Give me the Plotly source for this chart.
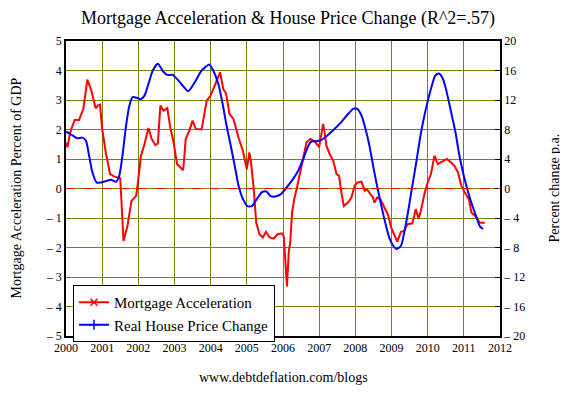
import plotly.graph_objects as go

# Mortgage acceleration (% of GDP, left axis)
red_x = [2000.00, 2000.04, 2000.10, 2000.13, 2000.24, 2000.36, 2000.48, 2000.59, 2000.70, 2000.82,
         2000.88, 2000.94, 2001.00, 2001.10, 2001.22, 2001.33, 2001.44, 2001.50, 2001.59, 2001.70,
         2001.81, 2001.94, 2002.00, 2002.07, 2002.17, 2002.28, 2002.37, 2002.47, 2002.54, 2002.61,
         2002.70, 2002.80, 2002.89, 2002.97, 2003.07, 2003.24, 2003.31, 2003.41, 2003.50, 2003.59,
         2003.75, 2003.89, 2004.00, 2004.12, 2004.26, 2004.35, 2004.43, 2004.52, 2004.63, 2004.77,
         2004.89, 2005.00, 2005.07, 2005.11, 2005.19, 2005.26, 2005.35, 2005.44, 2005.53, 2005.63,
         2005.74, 2005.85, 2005.97, 2006.02, 2006.06, 2006.11, 2006.16, 2006.20, 2006.25, 2006.31,
         2006.39, 2006.47, 2006.56, 2006.65, 2006.76, 2006.88, 2007.00, 2007.06, 2007.11, 2007.15,
         2007.20, 2007.29, 2007.39, 2007.48, 2007.55, 2007.60, 2007.68, 2007.80, 2007.89, 2007.98,
         2008.05, 2008.17, 2008.26, 2008.32, 2008.39, 2008.49, 2008.53, 2008.60, 2008.69, 2008.81,
         2008.90, 2009.00, 2009.16, 2009.26, 2009.35, 2009.44, 2009.58, 2009.67, 2009.75, 2009.81,
         2009.91, 2010.00, 2010.09, 2010.19, 2010.28, 2010.40, 2010.53, 2010.65, 2010.74, 2010.84,
         2010.93, 2011.05, 2011.14, 2011.21, 2011.33, 2011.44, 2011.58]
red_y = [1.55, 1.40, 1.80, 1.96, 2.32, 2.32, 2.70, 3.69, 3.32, 2.72,
         2.81, 2.84, 2.02, 1.22, 0.49, 0.41, 0.37, 0.35, -1.78, -1.27,
         -0.42, -0.25, 0.32, 1.10, 1.50, 2.05, 1.68, 1.47, 1.53, 2.81,
         2.64, 2.72, 2.02, 1.60, 0.83, 0.62, 1.68, 1.96, 2.30, 2.02,
         2.00, 2.98, 3.15, 3.54, 3.94, 3.37, 3.20, 2.53, 2.36, 1.73,
         1.28, 0.66, 1.22, 0.94, 0.00, -1.16, -1.55, -1.66, -1.47, -1.66,
         -1.70, -1.55, -1.52, -1.61, -2.52, -3.32, -2.13, -1.84, -0.82, -0.36,
         0.05, 0.55, 1.11, 1.57, 1.68, 1.59, 1.40, 1.80, 2.19, 1.91,
         1.45, 1.17, 0.94, 0.49, 0.43, -0.02, -0.59, -0.48, -0.31, 0.09,
         0.20, 0.23, -0.08, -0.02, -0.14, -0.31, -0.48, -0.31, -0.36, -0.65,
         -0.88, -1.35, -1.80, -1.47, -1.44, -1.21, -1.18, -0.70, -1.02, -0.76,
         -0.19, 0.20, 0.49, 1.11, 0.83, 0.91, 1.00, 0.88, 0.77, 0.54,
         0.09, -0.19, -0.36, -0.82, -0.95, -1.16, -1.16]

# Real house price change (% p.a., right axis)
blue_x = [2000.00, 2000.18, 2000.31, 2000.45, 2000.55, 2000.64, 2000.73, 2000.85, 2000.96, 2001.10,
          2001.24, 2001.38, 2001.47, 2001.56, 2001.66, 2001.75, 2001.84, 2001.96, 2002.06, 2002.17,
          2002.28, 2002.40, 2002.54, 2002.68, 2002.80, 2002.95, 2003.15, 2003.38, 2003.56, 2003.75,
          2003.96, 2004.07, 2004.21, 2004.33, 2004.44, 2004.56, 2004.68, 2004.77, 2004.89, 2005.02,
          2005.14, 2005.28, 2005.42, 2005.54, 2005.65, 2005.79, 2005.93, 2006.06, 2006.28, 2006.42,
          2006.56, 2006.70, 2006.79, 2006.93, 2007.06, 2007.25, 2007.43, 2007.61, 2007.80, 2007.94,
          2008.05, 2008.17, 2008.28, 2008.39, 2008.51, 2008.62, 2008.74, 2008.85, 2008.94, 2009.04,
          2009.13, 2009.26, 2009.35, 2009.44, 2009.56, 2009.67, 2009.81, 2009.95, 2010.09, 2010.21,
          2010.31, 2010.42, 2010.53, 2010.65, 2010.77, 2010.88, 2011.00, 2011.12, 2011.24, 2011.35,
          2011.44, 2011.53]
blue_y = [7.7, 7.2, 6.8, 6.9, 6.5, 4.4, 2.2, 0.8, 0.8, 1.0,
          1.2, 0.9, 1.7, 4.4, 8.5, 11.2, 12.4, 12.3, 12.1, 12.6,
          14.2, 16.0, 16.9, 15.9, 15.4, 15.4, 14.4, 13.2, 14.4, 16.0,
          16.8, 16.0, 14.2, 11.5, 8.5, 5.7, 2.7, 0.4, -1.4, -2.4,
          -2.4, -1.4, -0.5, -0.4, -1.0, -1.1, -0.8, -0.1, 1.3, 2.4,
          4.0, 5.8, 6.4, 6.4, 6.6, 7.3, 8.1, 9.0, 10.1, 10.8,
          10.8, 9.9, 8.1, 5.8, 2.6, -0.1, -2.8, -5.1, -6.7, -7.7,
          -8.2, -7.8, -6.0, -3.7, -0.1, 3.1, 7.4, 10.8, 13.5, 15.3,
          15.6, 14.9, 13.0, 10.3, 7.6, 4.4, 1.7, -0.5, -2.4, -3.9,
          -5.1, -5.5]

left_ticks = [-5, -4, -3, -2, -1, 0, 1, 2, 3, 4, 5]
right_ticks = [-20, -16, -12, -8, -4, 0, 4, 8, 12, 16, 20]
year_ticks = list(range(2000, 2013))

def lab(v):
    return ("– " + str(abs(v))) if v < 0 else str(v)

SERIF = "Liberation Serif"
RED = "#ff0000"
BLUE = "#0000ff"
OLIVE = "#808000"

# page has an 8px body margin: figure is drawn 8px right/down of the window corner
W, H = 560, 387
ML, MR, MT, MB = 58, 68, 33, 59
PW = W - ML - MR   # 434
PH = H - MT - MB   # 295

fig = go.Figure()
fig.add_trace(go.Scatter(x=red_x, y=red_y, mode="lines", line=dict(color=RED, width=2),
                         showlegend=False, yaxis="y"))
fig.add_trace(go.Scatter(x=blue_x, y=blue_y, mode="lines",
                         line=dict(color=BLUE, width=2, shape="spline", smoothing=0.6),
                         showlegend=False, yaxis="y2"))
fig.add_trace(go.Scatter(x=[None], y=[None], mode="lines+markers", name="Mortgage Acceleration",
                         line=dict(color=RED, width=2),
                         marker=dict(symbol="x-thin", size=7, color=RED, line=dict(color=RED, width=1.5))))
fig.add_trace(go.Scatter(x=[None], y=[None], mode="lines+markers", name="Real House Price Change",
                         line=dict(color=BLUE, width=2),
                         marker=dict(symbol="cross-thin", size=7, color=BLUE, line=dict(color=BLUE, width=1.5)),
                         yaxis="y2"))

fig.add_shape(type="line", xref="paper", yref="y", x0=0, x1=1, y0=0, y1=0,
              line=dict(color=RED, width=1, dash="dash"))

fig.update_layout(
    width=W, height=H,
    margin=dict(l=ML, r=MR, t=MT, b=MB, autoexpand=False),
    paper_bgcolor="white", plot_bgcolor="white",
    font=dict(family=SERIF, size=12, color="black"),
    title=dict(text="Mortgage Acceleration & House Price Change (R^2=.57)", x=0.5, xanchor="center",
               y=1 - 10 / H, yanchor="middle", font=dict(size=18, family=SERIF)),
    xaxis=dict(range=[2000, 2012], tickvals=year_ticks, ticktext=[str(v) for v in year_ticks],
               showgrid=True, gridcolor=OLIVE, gridwidth=1, zeroline=False,
               showline=True, linecolor="black", linewidth=1.5, mirror=True, ticks="",
               tickfont=dict(size=12, family=SERIF)),
    yaxis=dict(range=[-5, 5], tickvals=left_ticks, ticktext=[lab(v) for v in left_ticks],
               showgrid=True, gridcolor=OLIVE, gridwidth=1, zeroline=False,
               showline=True, linecolor="black", linewidth=1.5, ticks="",
               tickfont=dict(size=12, family=SERIF)),
    yaxis2=dict(range=[-20, 20], tickvals=right_ticks, ticktext=[lab(v) for v in right_ticks],
                overlaying="y", side="right", showgrid=False, zeroline=False,
                showline=True, linecolor="black", linewidth=1.5, ticks="inside", ticklen=5,
                tickcolor="black", tickfont=dict(size=12, family=SERIF)),
    legend=dict(x=7 / PW, y=(336 - 285) / PH, xanchor="left", yanchor="top", bgcolor="white",
                bordercolor="black", borderwidth=1, font=dict(size=15, family=SERIF),
                itemwidth=30, tracegroupgap=0),
)

fig.add_annotation(text="Mortgage Acceleration Percent of GDP", xref="paper", yref="paper",
                   x=(16 - 66) / PW, y=0.5, xanchor="center", yanchor="middle", textangle=-90,
                   showarrow=False, font=dict(size=14, family=SERIF))
fig.add_annotation(text="Percent change p.a.", xref="paper", yref="paper",
                   x=(554 - 66) / PW, y=0.5, xanchor="center", yanchor="middle", textangle=-90,
                   showarrow=False, font=dict(size=14, family=SERIF))
fig.add_annotation(text="www.debtdeflation.com/blogs", xref="paper", yref="paper",
                   x=0.5, y=(336 - 377) / PH, xanchor="center", yanchor="middle",
                   showarrow=False, font=dict(size=14, family=SERIF))

fig.write_html("out.html")
